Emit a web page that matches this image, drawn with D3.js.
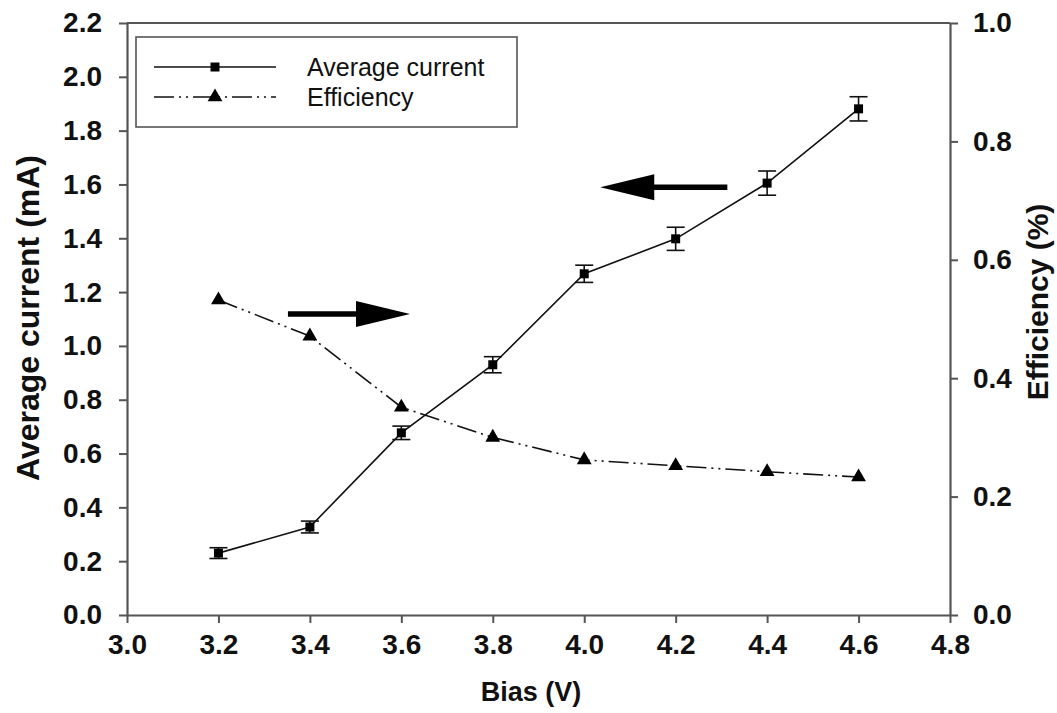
<!DOCTYPE html>
<html>
<head>
<meta charset="utf-8">
<script src="https://cdn.jsdelivr.net/npm/d3@7"></script>
<style>
  html, body { margin: 0; padding: 0; background: #fff; }
  svg { display: block; font-family: "Liberation Sans", Arial, sans-serif; }
</style>
</head>
<body>
<svg id="chart" width="1057" height="713"></svg>
<script>
// Bias voltage (V)
const bias = [3.2, 3.4, 3.6, 3.8, 4.0, 4.2, 4.4, 4.6];
// Average current (mA) with error
const current = [0.23, 0.327, 0.677, 0.93, 1.268, 1.398, 1.605, 1.881];
const currentErr = [0.02, 0.022, 0.025, 0.03, 0.032, 0.043, 0.045, 0.045];
// Efficiency (%)
const efficiency = [0.532, 0.471, 0.351, 0.30, 0.262, 0.252, 0.242, 0.233];

const xTicks = [3.0, 3.2, 3.4, 3.6, 3.8, 4.0, 4.2, 4.4, 4.6, 4.8];
const yLeftTicks = [0, 0.2, 0.4, 0.6, 0.8, 1.0, 1.2, 1.4, 1.6, 1.8, 2.0, 2.2];
const yRightTicks = [0, 0.2, 0.4, 0.6, 0.8, 1.0];

// Annotation arrows: [x tail, x tip, y] in axis units (left axis)
const arrowLeft = [4.313, 4.035, 1.59];
const arrowRight = [3.352, 3.619, 1.119];

const svg = d3.select("#chart");
const margin = { left: 127, right: 107, top: 23, bottom: 98 };
const W = 1057, H = 713;
const x = d3.scaleLinear().domain([3.0, 4.8]).range([margin.left, W - margin.right]);
const yL = d3.scaleLinear().domain([0, 2.2]).range([H - margin.bottom, margin.top]);
const yR = d3.scaleLinear().domain([0, 1.0]).range([H - margin.bottom, margin.top]);

const axisColor = "#555";
const inkColor = "#111";
const tickFont = 28;

function styleAxis(g) {
  g.select(".domain").attr("stroke", axisColor).attr("stroke-width", 2.2);
  g.selectAll(".tick line").attr("stroke", axisColor).attr("stroke-width", 2);
  g.selectAll(".tick text")
    .attr("fill", inkColor)
    .style("font-size", tickFont + "px")
    .style("font-weight", "bold")
    .style("font-family", '"Liberation Sans", Arial, sans-serif');
}

// Top frame line
svg.append("line")
  .attr("x1", x(3.0)).attr("x2", x(4.8))
  .attr("y1", yL(2.2)).attr("y2", yL(2.2))
  .attr("stroke", axisColor).attr("stroke-width", 2.2);

svg.append("g")
  .attr("transform", `translate(0,${H - margin.bottom})`)
  .call(d3.axisBottom(x).tickValues(xTicks).tickFormat(d3.format(".1f")).tickSize(8).tickSizeOuter(0).tickPadding(11))
  .call(styleAxis);

svg.append("g")
  .attr("transform", `translate(${margin.left},0)`)
  .call(d3.axisLeft(yL).tickValues(yLeftTicks).tickFormat(d3.format(".1f")).tickSize(8).tickSizeOuter(0).tickPadding(17))
  .call(styleAxis);

svg.append("g")
  .attr("transform", `translate(${W - margin.right},0)`)
  .call(d3.axisRight(yR).tickValues(yRightTicks).tickFormat(d3.format(".1f")).tickSize(8).tickSizeOuter(0).tickPadding(15))
  .call(styleAxis);

// Axis titles
svg.append("text")
  .attr("x", 531).attr("y", 701)
  .attr("text-anchor", "middle")
  .attr("fill", inkColor)
  .style("font-size", "27px").style("font-weight", "bold")
  .text("Bias (V)");

svg.append("text")
  .attr("transform", `translate(39,${318}) rotate(-90)`)
  .attr("text-anchor", "middle")
  .attr("fill", inkColor)
  .style("font-size", "32px").style("font-weight", "bold")
  .text("Average current (mA)");

svg.append("text")
  .attr("transform", `translate(1048,${302}) rotate(-90)`)
  .attr("text-anchor", "middle")
  .attr("fill", inkColor)
  .style("font-size", "30px").style("font-weight", "bold")
  .text("Efficiency (%)");

const effDash = "20,5,2,5,2,5";

// Efficiency series (right axis)
const effLine = d3.line().x((d, i) => x(bias[i])).y(d => yR(d));
svg.append("path")
  .datum(efficiency)
  .attr("d", effLine)
  .attr("fill", "none")
  .attr("stroke", inkColor)
  .attr("stroke-width", 1.6)
  .attr("stroke-dasharray", effDash);

const tri = d3.symbol().type(d3.symbolTriangle).size(95);
svg.selectAll(".tri")
  .data(efficiency)
  .join("path")
  .attr("class", "tri")
  .attr("transform", (d, i) => `translate(${x(bias[i])},${yR(d)})`)
  .attr("d", tri)
  .attr("fill", "#000");

// Average current series (left axis)
const curLine = d3.line().x((d, i) => x(bias[i])).y(d => yL(d));
svg.append("path")
  .datum(current)
  .attr("d", curLine)
  .attr("fill", "none")
  .attr("stroke", inkColor)
  .attr("stroke-width", 1.6);

const capHalf = 9;
const eb = svg.selectAll(".eb")
  .data(current)
  .join("g")
  .attr("class", "eb")
  .attr("stroke", inkColor)
  .attr("stroke-width", 1.6);
eb.append("line")
  .attr("x1", (d, i) => x(bias[i])).attr("x2", (d, i) => x(bias[i]))
  .attr("y1", (d, i) => yL(d - currentErr[i])).attr("y2", (d, i) => yL(d + currentErr[i]));
eb.append("line")
  .attr("x1", (d, i) => x(bias[i]) - capHalf).attr("x2", (d, i) => x(bias[i]) + capHalf)
  .attr("y1", (d, i) => yL(d + currentErr[i])).attr("y2", (d, i) => yL(d + currentErr[i]));
eb.append("line")
  .attr("x1", (d, i) => x(bias[i]) - capHalf).attr("x2", (d, i) => x(bias[i]) + capHalf)
  .attr("y1", (d, i) => yL(d - currentErr[i])).attr("y2", (d, i) => yL(d - currentErr[i]));

const sq = 9;
svg.selectAll(".sq")
  .data(current)
  .join("rect")
  .attr("class", "sq")
  .attr("x", (d, i) => x(bias[i]) - sq / 2)
  .attr("y", d => yL(d) - sq / 2)
  .attr("width", sq).attr("height", sq)
  .attr("fill", "#000");

// Arrows
function arrow(a) {
  const [xt, xh, yv] = a;
  const x0 = x(xt), x1 = x(xh), yy = yL(yv);
  const dir = Math.sign(x1 - x0);
  const headLen = 54, headHalf = 13;
  const xb = x1 - dir * headLen;
  svg.append("line")
    .attr("x1", x0).attr("x2", xb + dir * 2).attr("y1", yy).attr("y2", yy)
    .attr("stroke", "#000").attr("stroke-width", 5.5);
  svg.append("path")
    .attr("d", `M${x1},${yy} L${xb},${yy - headHalf} L${xb},${yy + headHalf} Z`)
    .attr("fill", "#000");
}
arrow(arrowLeft);
arrow(arrowRight);

// Legend
const lg = svg.append("g");
lg.append("rect")
  .attr("x", 136).attr("y", 37).attr("width", 381).attr("height", 90)
  .attr("fill", "#fff").attr("stroke", axisColor).attr("stroke-width", 1.6);
const legendRows = [
  { label: "Average current", y: 67, dash: null, marker: "square" },
  { label: "Efficiency", y: 97, dash: effDash, marker: "triangle" }
];
legendRows.forEach(r => {
  lg.append("line")
    .attr("x1", 154).attr("x2", 276).attr("y1", r.y).attr("y2", r.y)
    .attr("stroke", inkColor).attr("stroke-width", 1.6)
    .attr("stroke-dasharray", r.dash);
  if (r.marker === "square") {
    lg.append("rect").attr("x", 215 - sq / 2).attr("y", r.y - sq / 2)
      .attr("width", sq).attr("height", sq).attr("fill", "#000");
  } else {
    lg.append("path").attr("transform", `translate(215,${r.y})`).attr("d", tri).attr("fill", "#000");
  }
  lg.append("text")
    .attr("x", 307).attr("y", r.y + 9)
    .attr("fill", inkColor)
    .style("font-size", "25px")
    .text(r.label);
});
</script>
</body>
</html>
